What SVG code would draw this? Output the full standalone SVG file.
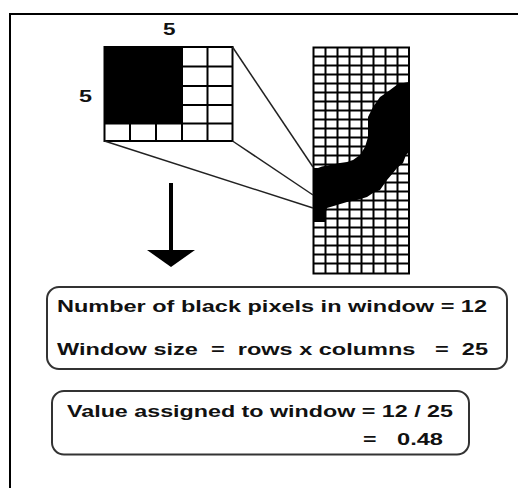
<svg xmlns="http://www.w3.org/2000/svg" width="519" height="488" viewBox="0 0 519 488">
<style>
.t{font-family:"Liberation Sans",Arial,sans-serif;font-weight:bold;font-size:16px;fill:#111}
.g{stroke:#000;stroke-width:2;fill:none}
.c{stroke:#222;stroke-width:1.5;fill:none}
.box{fill:#fff;stroke:#333;stroke-width:2}
</style>
<rect width="519" height="488" fill="#fff"/>
<g id="frame"><path d="M10 490 V14 H518" fill="none" stroke="#000" stroke-width="2"/></g>
<g id="labels">
<text class="t" x="163" y="35" textLength="12.5" lengthAdjust="spacingAndGlyphs">5</text>
<text class="t" x="79" y="101.5" textLength="13" lengthAdjust="spacingAndGlyphs">5</text>
</g>
<g id="window">
<rect x="104.5" y="47" width="77.5" height="76.5" fill="#000"/>
<rect class="g" x="104.5" y="47" width="128" height="94"/>
<path class="g" d="M130 123.5V141 M156 123.5V141 M182 47V141 M207.5 47V141 M182 66.5H232.5 M182 86H232.5 M182 105H232.5 M104.5 123.5H232.5"/>
</g>
<g id="image-grid">
<rect class="g" x="313.5" y="47.5" width="95.5" height="226"/>
<path class="g" d="M325.5 47.5V273.5 M337.5 47.5V273.5 M349.5 47.5V273.5 M361.5 47.5V273.5 M373.5 47.5V273.5 M385.5 47.5V273.5 M397.5 47.5V273.5
M313.5 56.5H409 M313.5 65.5H409 M313.5 74.5H409 M313.5 83.5H409 M313.5 92.5H409 M313.5 101.5H409 M313.5 110.5H409 M313.5 119.5H409 M313.5 128.5H409 M313.5 137.5H409 M313.5 146.5H409 M313.5 155.5H409 M313.5 164.5H409 M313.5 173.5H409 M313.5 182.5H409 M313.5 191.5H409 M313.5 200.5H409 M313.5 209.5H409 M313.5 218.5H409 M313.5 227.5H409 M313.5 236.5H409 M313.5 245.5H409 M313.5 254.5H409 M313.5 263.5H409"/>
<path d="M313 222 L313 168 L318 168 L322 166.5 L330 165 L340 163 L347 162 L353 160 L360 155 L365 147 L368 137 L368 117 L373 107 L380 97 L386 93 L390 90 L398 84 L409 82 L409 152 L406 155 L403 163 L397 168 L393 173 L387 180 L380 190 L373 193 L367 197 L357 200 L347 202 L337 205 L327 208 L325 215 L325 222 Z" fill="#000"/>
</g>
<g id="connectors">
<path class="c" d="M232.5 47 L313 167"/>
<path class="c" d="M232.5 141 L313 195"/>
<path class="c" d="M104.5 141 L313 208"/>
</g>
<g id="arrow">
<path d="M171 183 V252" stroke="#000" stroke-width="4"/>
<polygon points="147,250 195,250 171,267" fill="#000"/>
</g>
<g id="box1">
<rect class="box" x="47" y="287" width="460" height="82" rx="12"/>
<text class="t" x="57" y="311.5" textLength="430" lengthAdjust="spacingAndGlyphs">Number of black pixels in window = 12</text>
<text class="t" x="57" y="355" textLength="431" lengthAdjust="spacingAndGlyphs" xml:space="preserve">Window size  =  rows x columns   =  25</text>
</g>
<g id="box2">
<rect class="box" x="52" y="391" width="417" height="63.5" rx="12"/>
<text class="t" x="67" y="416.5" textLength="386" lengthAdjust="spacingAndGlyphs">Value assigned to window = 12 / 25</text>
<text class="t" x="363" y="445" textLength="13.5" lengthAdjust="spacingAndGlyphs">=</text>
<text class="t" x="397" y="445" textLength="46" lengthAdjust="spacingAndGlyphs">0.48</text>
</g>
</svg>
